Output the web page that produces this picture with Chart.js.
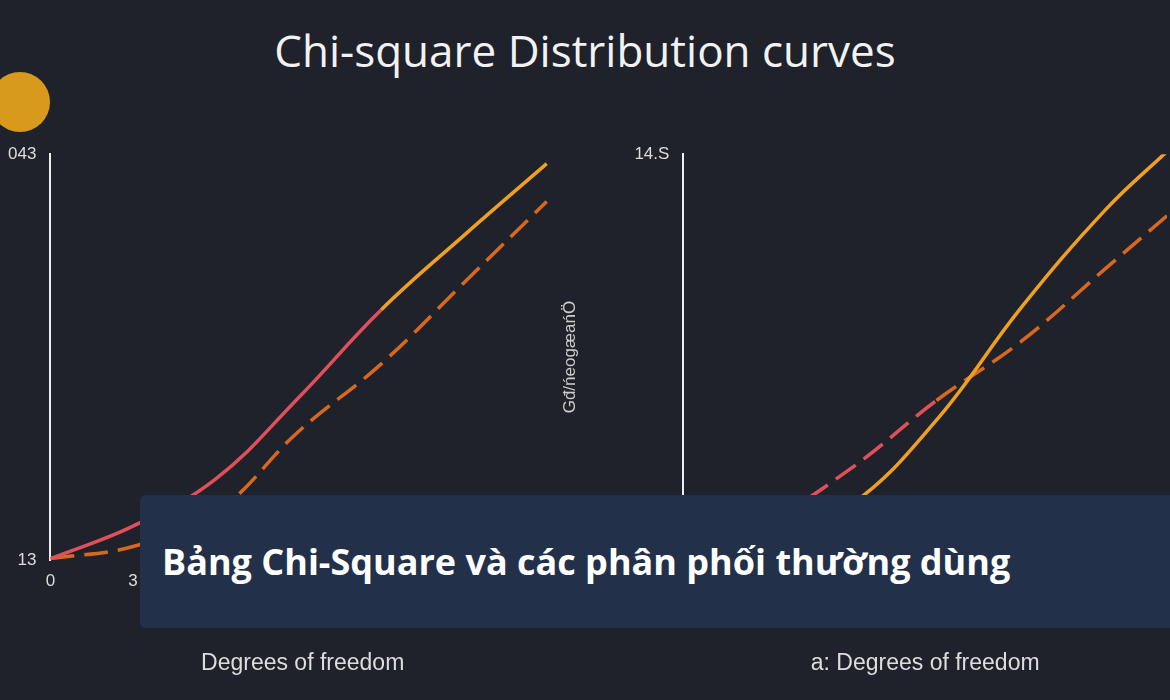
<!DOCTYPE html>
<html><head><meta charset="utf-8">
<script src="https://cdn.jsdelivr.net/npm/chart.js@4"></script>
<style>
body{margin:0;width:1170px;height:700px;background:#1f222b;overflow:hidden;font-family:"Open Sans",sans-serif;position:relative}
#title{position:absolute;top:20px;left:0;width:1170px;text-align:center;color:#f2f2f2;font-size:44px}
#logo{position:absolute;left:-10px;top:72px;width:60px;height:60px;border-radius:50%;background:#d89a1c}
.cw{position:absolute;top:130px;height:555px}
#banner{position:absolute;left:140px;top:495px;width:1040px;height:133px;background:#22304a;border-radius:6px;color:#fff;font:bold 36px "Open Sans",sans-serif;line-height:133px;padding-left:22px;box-sizing:border-box}
</style></head><body>
<div id="title">Chi-square Distribution curves</div>
<div id="logo"></div>
<div class="cw" style="left:0;width:580px"><canvas id="c1"></canvas></div>
<div class="cw" style="left:556px;width:614px"><canvas id="c2"></canvas></div>
<div id="banner">Bảng Chi-Square và các phân phối thường dùng</div>
<script>
var dfLeft = [0, 3, 6, 9, 12, 15, 18];
var leftA = [13.1, 15.5, 19.0, 25.0, 31.5, 37.0, 42.3];
var leftB = [13.1, 14.0, 16.5, 22.5, 27.5, 33.5, 39.5];
var dfRight = [0, 3, 6, 9, 12, 15, 17.2];
var rightA = [0.2, 0.6, 2.0, 5.0, 9.0, 12.5, 14.6];
var rightB = [0.3, 1.4, 3.3, 5.7, 7.8, 10.4, 12.3];

function pts(xs, ys) { return xs.map(function (x, i) { return {x: x, y: ys[i]}; }); }
function seg(split, lo, hi) {
    return function (c) { return c.p0DataIndex < split ? lo : hi; };
}

function make(id, xs, a, b, opt) {
    new Chart(document.getElementById(id), {
        type: 'line',
        data: {datasets: [
            {data: pts(xs, a), borderWidth: 3.5, pointRadius: 0, tension: 0.4,
             borderColor: '#f0a020', segment: {borderColor: seg(opt.splitA, '#e0505a', '#f0a020')}},
            {data: pts(xs, b), borderWidth: 3.5, pointRadius: 0, tension: 0.4, borderDash: [24, 10],
             borderColor: '#d8681e', segment: {borderColor: seg(opt.splitB, '#e0505a', '#d8681e')}}
        ]},
        options: {
            responsive: true, maintainAspectRatio: false, animation: false,
            layout: {padding: opt.pad},
            plugins: {legend: {display: false}, tooltip: {enabled: false}},
            scales: {
                x: {type: 'linear', min: 0, max: opt.xmax, grid: {display: false},
                    border: {display: false},
                    ticks: {stepSize: 3, color: '#ddd', font: {size: 17}, callback: function (v) { return v <= 3 ? v : ''; }},
                    title: {display: true, text: opt.xt, color: '#ddd', font: {size: 23}, padding: {top: 55, bottom: 8}}},
                y: {min: opt.ymin, max: opt.ymax, grid: {display: false, drawTicks: false},
                    border: {color: '#eee', width: 2},
                    afterBuildTicks: function (s) { s.ticks = [{value: opt.ymin}, {value: opt.ymax}]; },
                    ticks: {color: '#ddd', font: {size: 17}, padding: 14, callback: opt.yl},
                    title: {display: !!opt.yt, text: opt.yt, color: '#ccc', font: {size: 17}, padding: {bottom: 40}}}
            }
        }
    });
}

make('c1', dfLeft, leftA, leftB, {xmax: 18.3, ymin: 13, ymax: 43, splitA: 4, splitB: 0,
    xt: 'Degrees of freedom', pad: {left: -6, top: 12, right: 25},
    yl: function (v) { return v == 43 ? '043' : '13'; }});
make('c2', dfRight, rightA, rightB, {xmax: 17.2, ymin: 0, ymax: 14.5, splitA: 0, splitB: 3,
    xt: 'a: Degrees of freedom', yt: 'Gđ/ńeogæańÖ', pad: {left: 0, top: 12, right: 0},
    yl: function (v) { return v == 14.5 ? '14.S' : ''; }});
</script>
</body></html>
